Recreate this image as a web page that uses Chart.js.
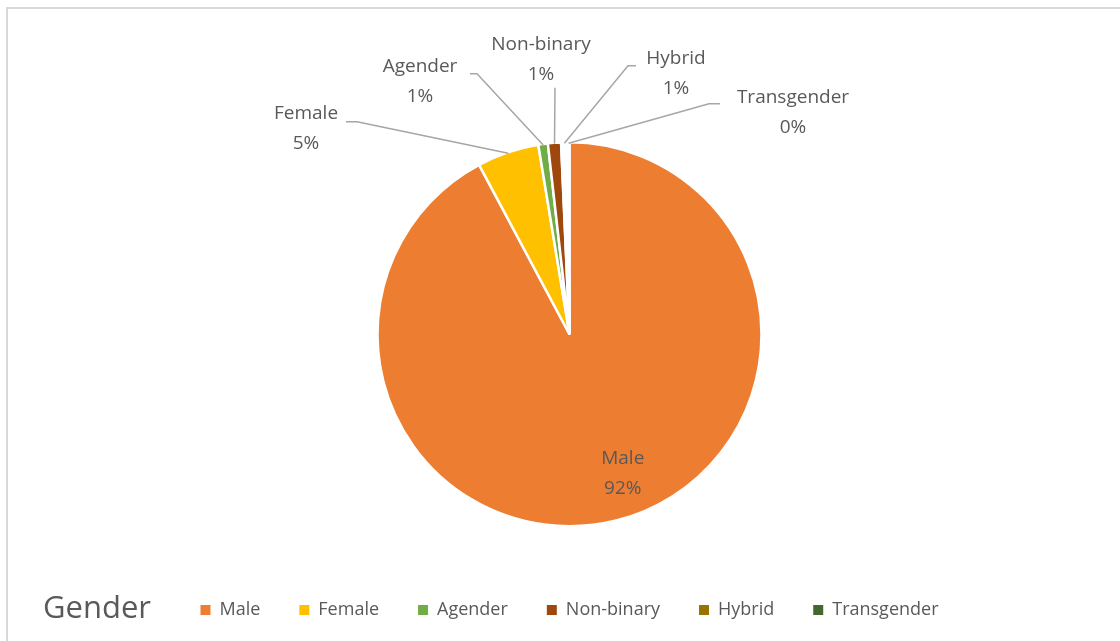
<!DOCTYPE html>
<html lang="en">
<head>
    <meta charset="UTF-8">
    <title>Gender</title>
    <script src="https://cdn.jsdelivr.net/npm/chart.js"></script>
    <style>
        body {
            margin: 0;
            background: #fff;
            font-family: 'Open Sans', sans-serif;
        }
        #frame {
            position: absolute;
            left: 6px;
            top: 7px;
            width: 1114px;
            height: 634px;
            border-left: 2px solid #d9d9d9;
            border-top: 2px solid #d9d9d9;
            box-sizing: border-box;
        }
        #wrap {
            position: absolute;
            left: 0;
            top: 0;
            width: 1120px;
            height: 641px;
        }
    </style>
</head>
<body>
    <div id="frame"></div>
    <div id="wrap"><canvas id="pieChart"></canvas></div>
    <script>
        // datos (porcentaje aproximado)
        const categories = ["Male", "Female", "Agender", "Non-binary", "Hybrid", "Transgender"];
        const values = [92.2, 5.2, 0.8, 1.1, 0.55, 0.15];
        const legendColors = ["#ED7D31", "#FFC000", "#70AD47", "#9E480E", "#997300", "#43682B"];
        // the tiny slices show as white in the picture
        const sliceColors = ["#ED7D31", "#FFC000", "#70AD47", "#9E480E", "#ffffff", "#ffffff"];

        const textColor = "#595959";
        const fontFamily = "'Open Sans', sans-serif";

        // where each outside label goes (text centre, relative to pie centre) and the elbow of its leader
        const labelLayout = [
            null,
            { dx: -263.5, dy: -220.5, ex: -212.5, ey: -212.5, sx: -223.5 },
            { dx: -149.5, dy: -267.5, ex: -92.5, ey: -260.5, sx: -99.5 },
            { dx: -28.5, dy: -289.5, ex: -14.5, ey: -246.5, sx: -14.5 },
            { dx: 106.5, dy: -275.5, ex: 58.5, ey: -268.5, sx: 66.5 },
            { dx: 223.5, dy: -236.5, ex: 139.5, ey: -230.5, sx: 150.5 }
        ];

        const pct = v => Math.round(v / values.reduce((a, b) => a + b, 0) * 100) + "%";

        const labelPlugin = {
            id: "pieLabels",
            afterDatasetsDraw(chart) {
                const ctx = chart.ctx;
                const arcs = chart.getDatasetMeta(0).data;
                ctx.save();
                ctx.font = "19px " + fontFamily;
                ctx.fillStyle = textColor;
                ctx.textAlign = "center";
                ctx.textBaseline = "middle";
                arcs.forEach((arc, i) => {
                    const cx = arc.x, cy = arc.y;
                    const mid = (arc.startAngle + arc.endAngle) / 2;
                    if (i === 0) {
                        // inside label
                        const r = arc.outerRadius * 0.66;
                        const x = cx + Math.cos(mid) * r + 22.5;
                        const y = cy + Math.sin(mid) * r + 16.5;
                        ctx.fillText(categories[i], x, y - 15);
                        ctx.fillText(pct(values[i]), x, y + 15);
                        return;
                    }
                    const L = labelLayout[i];
                    const px = cx + Math.cos(mid) * (arc.outerRadius - 1);
                    const py = cy + Math.sin(mid) * (arc.outerRadius - 1);
                    ctx.strokeStyle = "#a6a6a6";
                    ctx.lineWidth = 1.5;
                    ctx.beginPath();
                    ctx.moveTo(cx + L.sx, cy + L.ey);
                    ctx.lineTo(cx + L.ex, cy + L.ey);
                    ctx.lineTo(px, py);
                    ctx.stroke();
                    ctx.fillText(categories[i], cx + L.dx, cy + L.dy);
                    ctx.fillText(pct(values[i]), cx + L.dx, cy + L.dy + 30);
                });
                ctx.restore();
            }
        };

        const titlePlugin = {
            id: "legendTitle",
            afterDraw(chart) {
                const ctx = chart.ctx;
                ctx.save();
                ctx.font = "31px " + fontFamily;
                ctx.fillStyle = textColor;
                ctx.textBaseline = "middle";
                ctx.fillText("Gender", 43, 609);
                ctx.restore();
            }
        };

        const ctx = document.getElementById("pieChart").getContext("2d");
        const chart = new Chart(ctx, {
            type: "pie",
            data: {
                labels: categories,
                datasets: [{
                    data: values,
                    backgroundColor: sliceColors,
                    borderColor: "#ffffff",
                    borderWidth: 2.5,
                    radius: 192
                }]
            },
            options: {
                responsive: true,
                maintainAspectRatio: false,
                animation: false,
                layout: {
                    padding: { top: 106.5, bottom: 12, left: 159, right: 140 }
                },
                plugins: {
                    tooltip: { enabled: false },
                    legend: {
                        position: "bottom",
                        labels: {
                            boxWidth: 10,
                            boxHeight: 10,
                            padding: 39,
                            color: textColor,
                            font: { size: 18, family: fontFamily },
                            generateLabels: c => categories.map((name, i) => ({
                                text: name,
                                fillStyle: legendColors[i],
                                strokeStyle: legendColors[i],
                                lineWidth: 0,
                                fontColor: textColor,
                                index: i
                            }))
                        }
                    }
                }
            },
            plugins: [labelPlugin, titlePlugin]
        });
    </script>
</body>
</html>
